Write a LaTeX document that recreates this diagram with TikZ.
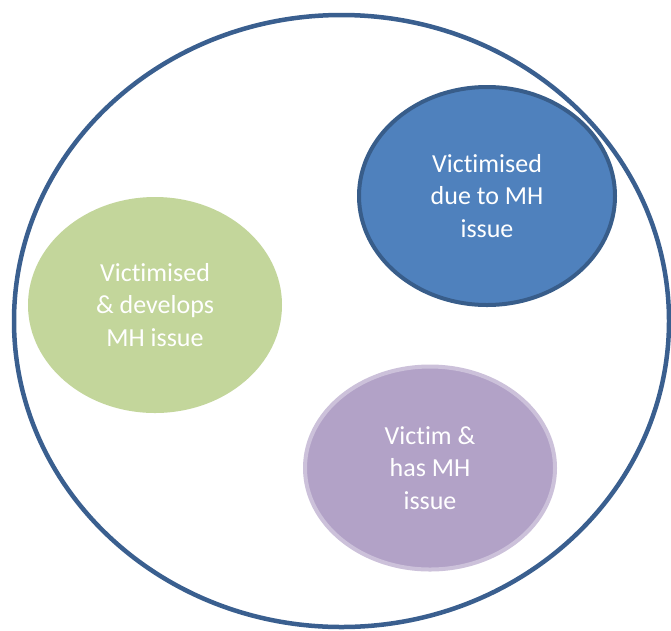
\documentclass[tikz,border=0pt]{standalone}
\usepackage{fontspec}
\setmainfont[Ligatures={NoCommon}]{Carlito}
\usetikzlibrary{shapes.geometric}
\definecolor{outerline}{HTML}{3A5F8F}
\definecolor{bluefill}{HTML}{4F81BD}
\definecolor{blueline}{HTML}{385D8A}
\definecolor{greenfill}{HTML}{C3D69B}
\definecolor{purplefill}{HTML}{B2A2C7}
\definecolor{purpleline}{HTML}{CCC1DA}
\tikzset{
  blob/.style={ellipse, inner sep=0pt, text=white, align=center,
    font=\fontsize{26}{32.5}\selectfont},
}
\begin{document}
\begin{tikzpicture}[x=1pt,y=-1pt]
\useasboundingbox (0,0) rectangle (671,630);
\fill[white] (0,0) rectangle (671,630);
\node[ellipse, draw=outerline, line width=4.5pt, minimum width=655pt, minimum height=612pt, inner sep=0pt] (outer) at (341.5,321) {};
\node[blob, fill=greenfill, minimum width=254pt, minimum height=216pt] (green) at (155,305) {Victimised\\\& develops\\MH issue};
\node[blob, fill=bluefill, draw=blueline, line width=4pt, minimum width=256pt, minimum height=218pt] (blue) at (487,196) {Victimised\\due to MH\\issue};
\node[blob, fill=purplefill, draw=purpleline, line width=4pt, minimum width=250pt, minimum height=203pt] (purple) at (430,468) {Victim \&\\has MH\\issue};
\end{tikzpicture}
\end{document}
